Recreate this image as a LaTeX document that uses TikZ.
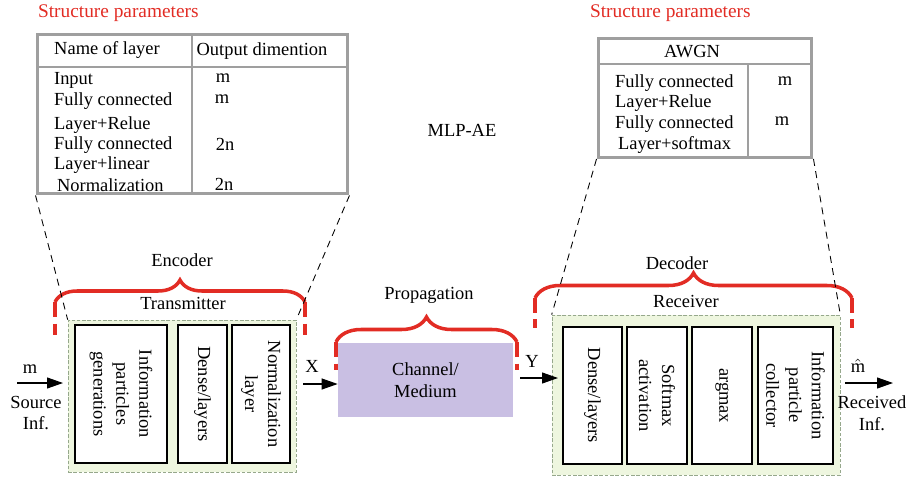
\documentclass[tikz,border=0pt]{standalone}
\usepackage{fontspec}
\setmainfont{Liberation Serif}
\usetikzlibrary{arrows.meta, positioning, decorations.pathreplacing, calc}
\definecolor{braceRed}{RGB}{226,44,36}
\definecolor{boxGreen}{RGB}{238,246,223}
\definecolor{boxEdge}{RGB}{150,168,140}
\definecolor{chanPurple}{RGB}{201,191,227}
\tikzset{
    font=\fontsize{10.5}{12.5}\selectfont,
    >={Triangle[length=0.32cm, width=0.22cm]},
    % Tables
    paramTab/.style={rectangle, draw=gray!75, line width=1.7pt, inner sep=0pt},
    tabRule/.style={draw=gray!75, line width=1.1pt},
    hdr/.style={text=braceRed, font=\fontsize{11}{13}\selectfont, inner sep=1pt},
    cell/.style={inner sep=1pt},
    % Blocks
    group/.style={rectangle, draw=boxEdge, fill=boxGreen, dash pattern=on 2pt off 1pt,
                  line width=0.4pt, inner sep=0pt},
    layer/.style={rectangle, draw=black, fill=white, line width=1.6pt, rotate=-90,
                  align=center, inner sep=0pt, font=\fontsize{10.5}{13}\selectfont},
    chan/.style={rectangle, fill=chanPurple, align=center, inner sep=0pt},
    % Braces & lines
    curly/.style={draw=braceRed, line width=2pt, decorate, decoration={brace, amplitude=#1}},
    curlyLeg/.style={draw=braceRed, line width=2pt, dash pattern=on 0.3cm off 0.13cm},
    zoomLine/.style={draw=black, line width=0.5pt, dash pattern=on 4pt off 3pt},
    flow/.style={->, line width=0.6pt},
    lbl/.style={inner sep=1pt, align=center}
}

\begin{document}
\begin{tikzpicture}[x=0.02cm, y=-0.02cm]
\useasboundingbox (0,0) rectangle (907,477);

% structure parameters, encoder side
\node[hdr, anchor=west] (spL) at (36,13) {Structure parameters};
\node[paramTab, minimum width=6.22cm, minimum height=3.2cm] (tabL) at (192.5,114) {};
\draw[tabRule] (37,67) -- (348,67);
\draw[tabRule] (192,34) -- (192,194);
\node[cell] (hdL1) at (107,50) {Name of layer};
\node[cell] (hdL2) at (262,51) {Output dimention};
\node[cell, anchor=west] (rL1) at (52,80) {Input};
\node[cell, anchor=west] (rL2) at (52,101) {Fully connected};
\node[cell, anchor=west] (rL3) at (52,125) {Layer+Relue};
\node[cell, anchor=west] (rL4) at (52,145) {Fully connected};
\node[cell, anchor=west] (rL5) at (52,165) {Layer+linear};
\node[cell, anchor=west] (rL6) at (55,185) {Normalization};
\node[cell] (oL1) at (223,78) {m};
\node[cell] (oL2) at (222,99) {m};
\node[cell] (oL3) at (225,144) {2n};
\node[cell] (oL4) at (224,184) {2n};

% structure parameters, decoder side
\node[hdr, anchor=west] (spR) at (588,13) {Structure parameters};
\node[paramTab, minimum width=4.28cm, minimum height=2.38cm] (tabR) at (705,98) {};
\draw[tabRule] (598,64) -- (812,64);
\draw[tabRule] (748,64) -- (748,157);
\node[cell] (hdR) at (692,52) {AWGN};
\node[cell, anchor=west] (rR1) at (613,83) {Fully connected};
\node[cell, anchor=west] (rR2) at (613,103) {Layer+Relue};
\node[cell, anchor=west] (rR3) at (613,124) {Fully connected};
\node[cell, anchor=west] (rR4) at (616,145) {Layer+softmax};
\node[cell] (oR1) at (785,81) {m};
\node[cell] (oR2) at (782,121) {m};

\node[lbl] (mlp) at (462,130) {MLP-AE};

% transmitter
\node[group, minimum width=4.56cm, minimum height=3.04cm] (tx) at (182,396) {};
\node[layer, minimum width=2.76cm, minimum height=1.84cm] (info) at (121,394) {Information\\particles\\generations};
\node[layer, minimum width=2.76cm, minimum height=0.98cm] (denseT) at (202.5,394) {Dense/layers};
\node[layer, minimum width=2.76cm, minimum height=1.16cm] (norm) at (261,394) {Normalization\\layer};
\node[lbl] (trans) at (183,303) {Transmitter};
\node[lbl] (enc) at (182,260) {Encoder};

% channel
\node[chan, minimum width=3.5cm, minimum height=1.48cm] (ch) at (425.5,380) {Channel/\\Medium};
\node[lbl] (prop) at (429,295) {Propagation};

% receiver
\node[group, minimum width=5.76cm, minimum height=3.2cm] (rx) at (696,395) {};
\node[layer, minimum width=2.74cm, minimum height=1.18cm] (denseR) at (592.5,395.5) {Dense/layers};
\node[layer, minimum width=2.74cm, minimum height=1.2cm] (soft) at (657,395.5) {Softmax\\activation};
\node[layer, minimum width=2.74cm, minimum height=1.2cm] (amax) at (722,395.5) {argmax};
\node[layer, minimum width=2.74cm, minimum height=1.5cm] (coll) at (795.5,395.5) {Information\\particle\\collector};
\node[lbl] (recv) at (686,301) {Receiver};
\node[lbl] (dec) at (677,263) {Decoder};

% braces
\draw[curly=0.44cm] (55,302) -- (305,302);
\draw[curlyLeg] (55,302) -- (55,335);
\draw[curlyLeg] (305,302) -- (305,335);
\draw[curly=0.5cm] (336,342) -- (517,342);
\draw[curlyLeg] (336,342) -- (336,370);
\draw[curlyLeg] (517,342) -- (517,370);
\draw[curly=0.5cm] (535,298) -- (852,298);
\draw[curlyLeg] (535,298) -- (535,328);
\draw[curlyLeg] (852,298) -- (852,328);

% zoom lines
\draw[zoomLine] (tabL.south west) -- (tx.north west);
\draw[zoomLine] (tabL.south east) -- (tx.north east);
\draw[zoomLine] (tabR.south west) -- (rx.north west);
\draw[zoomLine] (tabR.south east) -- (rx.north east);

% signal flow
\coordinate (src) at (17,383);
\coordinate (xOut) at (303,384);
\coordinate (yOut) at (520,378);
\coordinate (mOut) at (845,383);
\draw[flow] (src) -- (src -| 63,0);
\draw[flow] (xOut) -- (xOut -| ch.west);
\draw[flow] (yOut) -- (yOut -| 558,0);
\draw[flow] (mOut) -- (mOut -| 893,0);
\node[lbl] (mIn) at (30,369) {m};
\node[lbl] (srcLbl) at (36,413) {Source\\Inf.};
\node[lbl] (xLbl) at (312,366) {X};
\node[lbl] (yLbl) at (532,361) {Y};
\node[lbl] (mHat) at (858,366) {$\hat{\mathrm{m}}$};
\node[lbl] (rcvLbl) at (872,413) {Received\\Inf.};

\end{tikzpicture}
\end{document}
